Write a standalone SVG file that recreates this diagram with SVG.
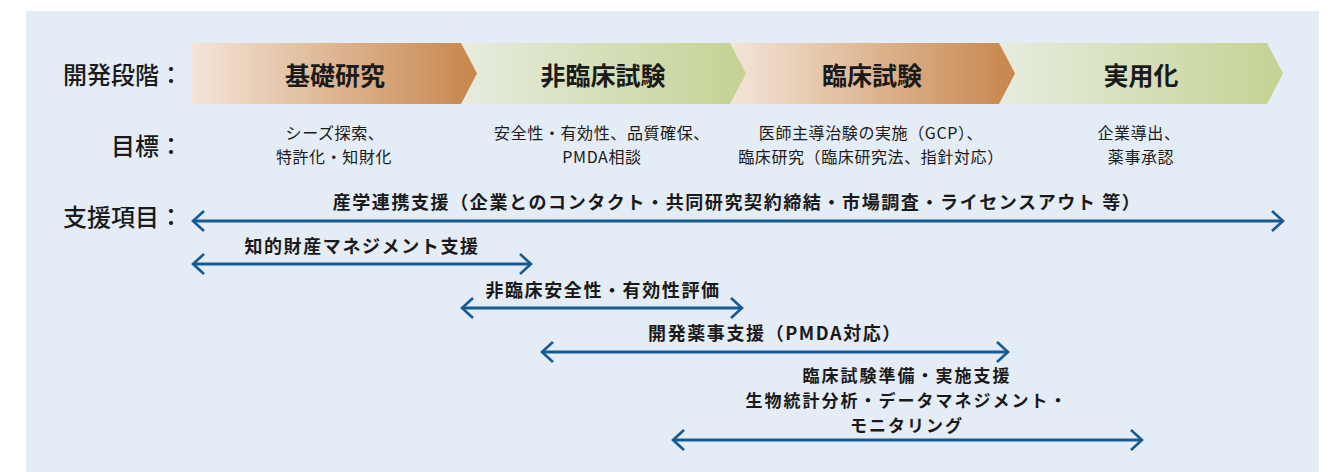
<svg xmlns="http://www.w3.org/2000/svg" width="1329" height="472" viewBox="0 0 1329 472">
<defs>
<linearGradient id="gOr" x1="0" y1="0" x2="1" y2="0">
<stop offset="0" stop-color="#f4e5d8"/>
<stop offset="1" stop-color="#c7864c"/>
</linearGradient>
<linearGradient id="gGr" x1="0" y1="0" x2="1" y2="0">
<stop offset="0" stop-color="#e7ecdf"/>
<stop offset="1" stop-color="#c4d293"/>
</linearGradient>
<marker id="ah" viewBox="-14 -12 16 24" refX="0" refY="0" markerWidth="16" markerHeight="24" markerUnits="userSpaceOnUse" orient="auto-start-reverse">
<path d="M-11,-10 L0,0 L-11,10" fill="none" stroke="#165a94" stroke-width="2.6"/>
</marker>
<style>
text{font-family:"Noto Sans CJK JP","Noto Sans",sans-serif;fill:#1a1a1a;dominant-baseline:central}
.lbl{font-size:24px;font-weight:500;text-anchor:end}
.stg{font-size:25px;font-weight:700;text-anchor:middle}
.goal{font-size:16px;text-anchor:middle;letter-spacing:0.6px}
.sup{font-size:18px;font-weight:700;text-anchor:middle;letter-spacing:1.6px}
.sup2{font-size:17px;font-weight:700;text-anchor:middle;letter-spacing:2px}
.arr{stroke:#165a94;stroke-width:2.8;fill:none;marker-start:url(#ah);marker-end:url(#ah)}
</style>
</defs>
<rect x="0" y="0" width="1329" height="472" fill="#ffffff"/>
<rect x="26" y="11" width="1293" height="461" fill="#e4ecf5"/>

<g id="labels">
<text class="lbl" x="183" y="73">開発段階：</text>
<text class="lbl" x="183" y="144">目標：</text>
<text class="lbl" x="183" y="215">支援項目：</text>
</g>

<g id="stage4">
<polygon points="999,43 1267,43 1283,73.5 1267,104 999,104" fill="url(#gGr)"/>
<text class="stg" x="1141" y="74">実用化</text>
</g>
<g id="stage3">
<polygon points="730,43 999,43 1015,73.5 999,104 730,104" fill="url(#gOr)"/>
<text class="stg" x="872" y="74">臨床試験</text>
</g>
<g id="stage2">
<polygon points="461,43 730,43 746,73.5 730,104 461,104" fill="url(#gGr)"/>
<text class="stg" x="603" y="74">非臨床試験</text>
</g>
<g id="stage1">
<polygon points="192,43 461,43 477,73.5 461,104 192,104" fill="url(#gOr)"/>
<text class="stg" x="335" y="74">基礎研究</text>
</g>

<g id="goal1">
<text class="goal" x="335" y="132">シーズ探索、</text>
<text class="goal" x="334" y="156">特許化・知財化</text>
</g>
<g id="goal2">
<text class="goal" x="602" y="132">安全性・有効性、品質確保、</text>
<text class="goal" x="602" y="156">PMDA相談</text>
</g>
<g id="goal3">
<text class="goal" x="871" y="132">医師主導治験の実施（GCP）、</text>
<text class="goal" x="871" y="156">臨床研究（臨床研究法、指針対応）</text>
</g>
<g id="goal4">
<text class="goal" x="1139" y="132">企業導出、</text>
<text class="goal" x="1141" y="156">薬事承認</text>
</g>

<g id="connectors">
<line class="arr" x1="193" y1="221" x2="1283" y2="221"/>
<line class="arr" x1="193" y1="264" x2="531" y2="264"/>
<line class="arr" x1="462" y1="308" x2="742" y2="308"/>
<line class="arr" x1="542" y1="352" x2="1008" y2="352"/>
<line class="arr" x1="673" y1="440" x2="1142" y2="440"/>
</g>

<g id="support1">
<text class="sup" x="737" y="201">産学連携支援（企業とのコンタクト・共同研究契約締結・市場調査・ライセンスアウト 等）</text>
</g>
<g id="support2">
<text class="sup" x="362" y="245">知的財産マネジメント支援</text>
</g>
<g id="support3">
<text class="sup" x="603" y="289">非臨床安全性・有効性評価</text>
</g>
<g id="support4">
<text class="sup" x="775" y="332">開発薬事支援（PMDA対応）</text>
</g>
<g id="support5">
<text class="sup2" x="907" y="374">臨床試験準備・実施支援</text>
<text class="sup2" x="907" y="399">生物統計分析・データマネジメント・</text>
<text class="sup2" x="907" y="424">モニタリング</text>
</g>
</svg>
